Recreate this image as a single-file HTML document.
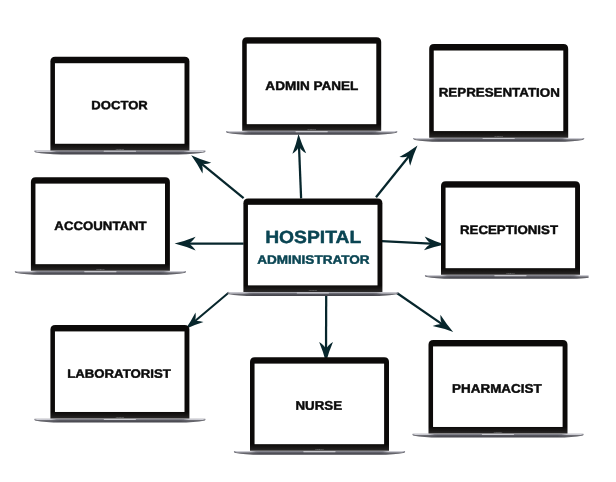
<!DOCTYPE html>
<html lang="en"><head><meta charset="utf-8"><title>Hospital Administrator</title>
<style>html,body{margin:0;padding:0;background:#fff;}body{width:616px;height:482px;overflow:hidden;font-family:"Liberation Sans",Arial,sans-serif;}svg{display:block;}</style>
</head><body>
<svg width="616" height="482" viewBox="0 0 616 482" font-family="'Liberation Sans', Arial, sans-serif" font-weight="700"><defs><linearGradient id="baseg" x1="0" y1="0" x2="0" y2="1"><stop offset="0" stop-color="#8e8e97"/><stop offset="0.28" stop-color="#787882"/><stop offset="0.45" stop-color="#55555d"/><stop offset="1" stop-color="#424249"/></linearGradient><linearGradient id="baseh" x1="0" y1="0" x2="1" y2="0"><stop offset="0" stop-color="#fff" stop-opacity="0"/><stop offset="0.02" stop-color="#fff" stop-opacity="0.15"/><stop offset="0.09" stop-color="#fff" stop-opacity="0.12"/><stop offset="0.15" stop-color="#fff" stop-opacity="0"/><stop offset="0.85" stop-color="#fff" stop-opacity="0"/><stop offset="0.91" stop-color="#fff" stop-opacity="0.12"/><stop offset="0.98" stop-color="#fff" stop-opacity="0.15"/><stop offset="1" stop-color="#fff" stop-opacity="0"/></linearGradient><linearGradient id="bezg" x1="0" y1="0" x2="0" y2="1"><stop offset="0" stop-color="#0c0a09"/><stop offset="0.93" stop-color="#0c0a09"/><stop offset="0.97" stop-color="#1c1a19"/><stop offset="1" stop-color="#2c2a2a"/></linearGradient><linearGradient id="hlL" x1="0" y1="0" x2="1" y2="0"><stop offset="0" stop-color="#d0d0d7" stop-opacity="0.3"/><stop offset="0.12" stop-color="#d0d0d7" stop-opacity="0.95"/><stop offset="0.75" stop-color="#d0d0d7" stop-opacity="0.9"/><stop offset="1" stop-color="#d0d0d7" stop-opacity="0"/></linearGradient><linearGradient id="hlR" x1="1" y1="0" x2="0" y2="0"><stop offset="0" stop-color="#d0d0d7" stop-opacity="0.3"/><stop offset="0.12" stop-color="#d0d0d7" stop-opacity="0.95"/><stop offset="0.75" stop-color="#d0d0d7" stop-opacity="0.9"/><stop offset="1" stop-color="#d0d0d7" stop-opacity="0"/></linearGradient></defs><g opacity="0.999"><g transform="translate(191.20 155.20) rotate(-140.63)"><rect x="-67.78" y="-1.12" width="53.78" height="2.25" fill="#07262c"/><path d="M0 0 Q-10.15 -2.62 -20.30 -6.90 Q-17.05 -2.07 -15.00 -1.12 L-15.00 1.12 Q-17.05 2.07 -20.30 6.90 Q-10.15 2.62 0 0Z" fill="#07262c"/></g>
<g transform="translate(298.50 133.90) rotate(-92.31)"><rect x="-64.55" y="-1.12" width="51.25" height="2.25" fill="#07262c"/><path d="M0 0 Q-9.80 -2.62 -19.60 -6.90 Q-16.46 -2.07 -14.30 -1.12 L-14.30 1.12 Q-16.46 2.07 -19.60 6.90 Q-9.80 2.62 0 0Z" fill="#07262c"/></g>
<g transform="translate(417.50 145.60) rotate(-51.19)"><rect x="-66.22" y="-1.12" width="52.22" height="2.25" fill="#07262c"/><path d="M0 0 Q-10.15 -2.62 -20.30 -6.90 Q-17.05 -2.07 -15.00 -1.12 L-15.00 1.12 Q-17.05 2.07 -20.30 6.90 Q-10.15 2.62 0 0Z" fill="#07262c"/></g>
<g transform="translate(444.60 244.40) rotate(3.09)"><rect x="-62.99" y="-1.12" width="48.99" height="2.25" fill="#07262c"/><path d="M0 0 Q-10.15 -2.62 -20.30 -6.90 Q-17.05 -2.07 -15.00 -1.12 L-15.00 1.12 Q-17.05 2.07 -20.30 6.90 Q-10.15 2.62 0 0Z" fill="#07262c"/></g>
<g transform="translate(453.20 331.90) rotate(34.64)"><rect x="-68.43" y="-1.12" width="54.43" height="2.25" fill="#07262c"/><path d="M0 0 Q-10.15 -2.62 -20.30 -6.90 Q-17.05 -2.07 -15.00 -1.12 L-15.00 1.12 Q-17.05 2.07 -20.30 6.90 Q-10.15 2.62 0 0Z" fill="#07262c"/></g>
<g transform="translate(326.00 362.30) rotate(90.17)"><rect x="-67.80" y="-1.12" width="53.80" height="2.25" fill="#07262c"/><path d="M0 0 Q-10.15 -2.62 -20.30 -6.90 Q-17.05 -2.07 -15.00 -1.12 L-15.00 1.12 Q-17.05 2.07 -20.30 6.90 Q-10.15 2.62 0 0Z" fill="#07262c"/></g>
<g transform="translate(185.50 329.00) rotate(140.01)"><rect x="-56.64" y="-1.01" width="44.14" height="2.02" fill="#07262c"/><path d="M0 0 Q-9.13 -2.36 -18.27 -6.21 Q-15.35 -1.86 -13.50 -1.01 L-13.50 1.01 Q-15.35 1.86 -18.27 6.21 Q-9.13 2.36 0 0Z" fill="#07262c"/></g>
<g transform="translate(174.60 243.50) rotate(-179.92)"><rect x="-69.00" y="-1.12" width="54.30" height="2.25" fill="#07262c"/><path d="M0 0 Q-10.50 -2.62 -21.00 -6.90 Q-17.64 -2.07 -15.70 -1.12 L-15.70 1.12 Q-17.64 2.07 -21.00 6.90 Q-10.50 2.62 0 0Z" fill="#07262c"/></g>
<g transform="translate(50.40 56.80) scale(1 0.9957)"><path d="M-15.9 94.2 L154.9 94.2 Q155.8 95.6 153.2 96.2 Q145 97.9 128 98 L11 98 Q-6 97.9 -14.2 96.2 Q-16.8 95.6 -15.9 94.2Z" fill="url(#baseg)"/><path d="M-15.9 94.2 L154.9 94.2 Q155.8 95.6 153.2 96.2 Q145 97.9 128 98 L11 98 Q-6 97.9 -14.2 96.2 Q-16.8 95.6 -15.9 94.2Z" fill="url(#baseh)"/><path d="M-15.7 94.2 H6 V95.5 H-13.4 Q-15.9 95.3 -15.7 94.2Z" fill="url(#hlL)"/><path d="M154.7 94.2 H133 V95.5 H152.4 Q154.9 95.3 154.7 94.2Z" fill="url(#hlR)"/><path d="M0 94.0 V4.8 Q0 0 4.8 0 H134.2 Q139.0 0 139.0 4.8 V94.0Z" fill="url(#bezg)"/><rect x="4.55" y="6.45" width="129.55" height="80.9" fill="#fff"/><rect x="53.3" y="94.3" width="32.3" height="1.1" rx="0.4" fill="#c9c9d0"/><text x="69.5" y="93.2" font-size="2.3" text-anchor="middle" fill="#8c8c8c" font-weight="400" textLength="8.4" lengthAdjust="spacingAndGlyphs">MacBook</text></g><text transform="rotate(0.03 119.6 105.0)" x="91.39" y="109.30" font-size="11.95" fill="#0b0b0b" stroke="#0b0b0b" stroke-width="0.45" stroke-linejoin="round" textLength="56.39" lengthAdjust="spacingAndGlyphs">DOCTOR</text>
<g transform="translate(242.20 37.20) scale(1 0.9957)"><path d="M-15.9 94.2 L154.9 94.2 Q155.8 95.6 153.2 96.2 Q145 97.9 128 98 L11 98 Q-6 97.9 -14.2 96.2 Q-16.8 95.6 -15.9 94.2Z" fill="url(#baseg)"/><path d="M-15.9 94.2 L154.9 94.2 Q155.8 95.6 153.2 96.2 Q145 97.9 128 98 L11 98 Q-6 97.9 -14.2 96.2 Q-16.8 95.6 -15.9 94.2Z" fill="url(#baseh)"/><path d="M-15.7 94.2 H6 V95.5 H-13.4 Q-15.9 95.3 -15.7 94.2Z" fill="url(#hlL)"/><path d="M154.7 94.2 H133 V95.5 H152.4 Q154.9 95.3 154.7 94.2Z" fill="url(#hlR)"/><path d="M0 94.0 V4.8 Q0 0 4.8 0 H134.2 Q139.0 0 139.0 4.8 V94.0Z" fill="url(#bezg)"/><rect x="4.55" y="6.45" width="129.55" height="80.9" fill="#fff"/><rect x="53.3" y="94.3" width="32.3" height="1.1" rx="0.4" fill="#c9c9d0"/><text x="69.5" y="93.2" font-size="2.3" text-anchor="middle" fill="#8c8c8c" font-weight="400" textLength="8.4" lengthAdjust="spacingAndGlyphs">MacBook</text></g><text transform="rotate(0.03 311.9 85.6)" x="265.39" y="90.04" font-size="12.44" fill="#0b0b0b" stroke="#0b0b0b" stroke-width="0.45" stroke-linejoin="round" textLength="93.02" lengthAdjust="spacingAndGlyphs">ADMIN PANEL</text>
<g transform="translate(429.20 44.10) scale(1 0.9957)"><path d="M-15.9 94.2 L154.9 94.2 Q155.8 95.6 153.2 96.2 Q145 97.9 128 98 L11 98 Q-6 97.9 -14.2 96.2 Q-16.8 95.6 -15.9 94.2Z" fill="url(#baseg)"/><path d="M-15.9 94.2 L154.9 94.2 Q155.8 95.6 153.2 96.2 Q145 97.9 128 98 L11 98 Q-6 97.9 -14.2 96.2 Q-16.8 95.6 -15.9 94.2Z" fill="url(#baseh)"/><path d="M-15.7 94.2 H6 V95.5 H-13.4 Q-15.9 95.3 -15.7 94.2Z" fill="url(#hlL)"/><path d="M154.7 94.2 H133 V95.5 H152.4 Q154.9 95.3 154.7 94.2Z" fill="url(#hlR)"/><path d="M0 94.0 V4.8 Q0 0 4.8 0 H134.2 Q139.0 0 139.0 4.8 V94.0Z" fill="url(#bezg)"/><rect x="4.55" y="6.45" width="129.55" height="80.9" fill="#fff"/><rect x="53.3" y="94.3" width="32.3" height="1.1" rx="0.4" fill="#c9c9d0"/><text x="69.5" y="93.2" font-size="2.3" text-anchor="middle" fill="#8c8c8c" font-weight="400" textLength="8.4" lengthAdjust="spacingAndGlyphs">MacBook</text></g><text transform="rotate(0.03 499.3 92.2)" x="438.71" y="96.61" font-size="12.36" fill="#0b0b0b" stroke="#0b0b0b" stroke-width="0.45" stroke-linejoin="round" textLength="121.12" lengthAdjust="spacingAndGlyphs">REPRESENTATION</text>
<g transform="translate(30.90 177.20) scale(1 0.9957)"><path d="M-15.9 94.2 L154.9 94.2 Q155.8 95.6 153.2 96.2 Q145 97.9 128 98 L11 98 Q-6 97.9 -14.2 96.2 Q-16.8 95.6 -15.9 94.2Z" fill="url(#baseg)"/><path d="M-15.9 94.2 L154.9 94.2 Q155.8 95.6 153.2 96.2 Q145 97.9 128 98 L11 98 Q-6 97.9 -14.2 96.2 Q-16.8 95.6 -15.9 94.2Z" fill="url(#baseh)"/><path d="M-15.7 94.2 H6 V95.5 H-13.4 Q-15.9 95.3 -15.7 94.2Z" fill="url(#hlL)"/><path d="M154.7 94.2 H133 V95.5 H152.4 Q154.9 95.3 154.7 94.2Z" fill="url(#hlR)"/><path d="M0 94.0 V4.8 Q0 0 4.8 0 H134.2 Q139.0 0 139.0 4.8 V94.0Z" fill="url(#bezg)"/><rect x="4.55" y="6.45" width="129.55" height="80.9" fill="#fff"/><rect x="53.3" y="94.3" width="32.3" height="1.1" rx="0.4" fill="#c9c9d0"/><text x="69.5" y="93.2" font-size="2.3" text-anchor="middle" fill="#8c8c8c" font-weight="400" textLength="8.4" lengthAdjust="spacingAndGlyphs">MacBook</text></g><text transform="rotate(0.03 100.5 225.5)" x="54.33" y="229.92" font-size="12.23" fill="#0b0b0b" stroke="#0b0b0b" stroke-width="0.45" stroke-linejoin="round" textLength="92.34" lengthAdjust="spacingAndGlyphs">ACCOUNTANT</text>
<g transform="translate(243.40 198.40) scale(1 0.9957)"><path d="M-15.9 94.2 L154.9 94.2 Q155.8 95.6 153.2 96.2 Q145 97.9 128 98 L11 98 Q-6 97.9 -14.2 96.2 Q-16.8 95.6 -15.9 94.2Z" fill="url(#baseg)"/><path d="M-15.9 94.2 L154.9 94.2 Q155.8 95.6 153.2 96.2 Q145 97.9 128 98 L11 98 Q-6 97.9 -14.2 96.2 Q-16.8 95.6 -15.9 94.2Z" fill="url(#baseh)"/><path d="M-15.7 94.2 H6 V95.5 H-13.4 Q-15.9 95.3 -15.7 94.2Z" fill="url(#hlL)"/><path d="M154.7 94.2 H133 V95.5 H152.4 Q154.9 95.3 154.7 94.2Z" fill="url(#hlR)"/><path d="M0 94.0 V4.8 Q0 0 4.8 0 H134.2 Q139.0 0 139.0 4.8 V94.0Z" fill="url(#bezg)"/><rect x="4.55" y="6.45" width="129.55" height="80.9" fill="#fff"/><rect x="53.3" y="94.3" width="32.3" height="1.1" rx="0.4" fill="#c9c9d0"/><text x="69.5" y="93.2" font-size="2.3" text-anchor="middle" fill="#8c8c8c" font-weight="400" textLength="8.4" lengthAdjust="spacingAndGlyphs">MacBook</text></g><text transform="rotate(0.03 313.2 236.8)" x="265.18" y="243.09" font-size="17.65" fill="#0a4553" stroke="#0a4553" stroke-width="0.45" stroke-linejoin="round" textLength="96.01" lengthAdjust="spacingAndGlyphs">HOSPITAL</text><text transform="rotate(0.03 313.4 259.3)" x="257.30" y="263.68" font-size="12.13" fill="#0a4553" stroke="#0a4553" stroke-width="0.45" stroke-linejoin="round" textLength="112.18" lengthAdjust="spacingAndGlyphs">ADMINISTRATOR</text>
<g transform="translate(441.00 181.20) scale(1 0.9957)"><path d="M-15.9 94.2 L154.9 94.2 Q155.8 95.6 153.2 96.2 Q145 97.9 128 98 L11 98 Q-6 97.9 -14.2 96.2 Q-16.8 95.6 -15.9 94.2Z" fill="url(#baseg)"/><path d="M-15.9 94.2 L154.9 94.2 Q155.8 95.6 153.2 96.2 Q145 97.9 128 98 L11 98 Q-6 97.9 -14.2 96.2 Q-16.8 95.6 -15.9 94.2Z" fill="url(#baseh)"/><path d="M-15.7 94.2 H6 V95.5 H-13.4 Q-15.9 95.3 -15.7 94.2Z" fill="url(#hlL)"/><path d="M154.7 94.2 H133 V95.5 H152.4 Q154.9 95.3 154.7 94.2Z" fill="url(#hlR)"/><path d="M0 94.0 V4.8 Q0 0 4.8 0 H134.2 Q139.0 0 139.0 4.8 V94.0Z" fill="url(#bezg)"/><rect x="4.55" y="6.45" width="129.55" height="80.9" fill="#fff"/><rect x="53.3" y="94.3" width="32.3" height="1.1" rx="0.4" fill="#c9c9d0"/><text x="69.5" y="93.2" font-size="2.3" text-anchor="middle" fill="#8c8c8c" font-weight="400" textLength="8.4" lengthAdjust="spacingAndGlyphs">MacBook</text></g><text transform="rotate(0.03 509.0 229.5)" x="460.04" y="233.96" font-size="12.33" fill="#0b0b0b" stroke="#0b0b0b" stroke-width="0.45" stroke-linejoin="round" textLength="97.96" lengthAdjust="spacingAndGlyphs">RECEPTIONIST</text>
<g transform="translate(50.40 325.00) scale(1 0.9957)"><path d="M-15.9 94.2 L154.9 94.2 Q155.8 95.6 153.2 96.2 Q145 97.9 128 98 L11 98 Q-6 97.9 -14.2 96.2 Q-16.8 95.6 -15.9 94.2Z" fill="url(#baseg)"/><path d="M-15.9 94.2 L154.9 94.2 Q155.8 95.6 153.2 96.2 Q145 97.9 128 98 L11 98 Q-6 97.9 -14.2 96.2 Q-16.8 95.6 -15.9 94.2Z" fill="url(#baseh)"/><path d="M-15.7 94.2 H6 V95.5 H-13.4 Q-15.9 95.3 -15.7 94.2Z" fill="url(#hlL)"/><path d="M154.7 94.2 H133 V95.5 H152.4 Q154.9 95.3 154.7 94.2Z" fill="url(#hlR)"/><path d="M0 94.0 V4.8 Q0 0 4.8 0 H134.2 Q139.0 0 139.0 4.8 V94.0Z" fill="url(#bezg)"/><rect x="4.55" y="6.45" width="129.55" height="80.9" fill="#fff"/><rect x="53.3" y="94.3" width="32.3" height="1.1" rx="0.4" fill="#c9c9d0"/><text x="69.5" y="93.2" font-size="2.3" text-anchor="middle" fill="#8c8c8c" font-weight="400" textLength="8.4" lengthAdjust="spacingAndGlyphs">MacBook</text></g><text transform="rotate(0.03 119.0 373.3)" x="67.20" y="377.68" font-size="12.14" fill="#0b0b0b" stroke="#0b0b0b" stroke-width="0.45" stroke-linejoin="round" textLength="103.61" lengthAdjust="spacingAndGlyphs">LABORATORIST</text>
<g transform="translate(250.00 357.20) scale(1 0.9957)"><path d="M-15.9 94.2 L154.9 94.2 Q155.8 95.6 153.2 96.2 Q145 97.9 128 98 L11 98 Q-6 97.9 -14.2 96.2 Q-16.8 95.6 -15.9 94.2Z" fill="url(#baseg)"/><path d="M-15.9 94.2 L154.9 94.2 Q155.8 95.6 153.2 96.2 Q145 97.9 128 98 L11 98 Q-6 97.9 -14.2 96.2 Q-16.8 95.6 -15.9 94.2Z" fill="url(#baseh)"/><path d="M-15.7 94.2 H6 V95.5 H-13.4 Q-15.9 95.3 -15.7 94.2Z" fill="url(#hlL)"/><path d="M154.7 94.2 H133 V95.5 H152.4 Q154.9 95.3 154.7 94.2Z" fill="url(#hlR)"/><path d="M0 94.0 V4.8 Q0 0 4.8 0 H134.2 Q139.0 0 139.0 4.8 V94.0Z" fill="url(#bezg)"/><rect x="4.55" y="6.45" width="129.55" height="80.9" fill="#fff"/><rect x="53.3" y="94.3" width="32.3" height="1.1" rx="0.4" fill="#c9c9d0"/><text x="69.5" y="93.2" font-size="2.3" text-anchor="middle" fill="#8c8c8c" font-weight="400" textLength="8.4" lengthAdjust="spacingAndGlyphs">MacBook</text></g><text transform="rotate(0.03 318.7 405.3)" x="295.45" y="409.77" font-size="12.45" fill="#0b0b0b" stroke="#0b0b0b" stroke-width="0.45" stroke-linejoin="round" textLength="46.59" lengthAdjust="spacingAndGlyphs">NURSE</text>
<g transform="translate(428.50 340.00) scale(1 0.9957)"><path d="M-15.9 94.2 L154.9 94.2 Q155.8 95.6 153.2 96.2 Q145 97.9 128 98 L11 98 Q-6 97.9 -14.2 96.2 Q-16.8 95.6 -15.9 94.2Z" fill="url(#baseg)"/><path d="M-15.9 94.2 L154.9 94.2 Q155.8 95.6 153.2 96.2 Q145 97.9 128 98 L11 98 Q-6 97.9 -14.2 96.2 Q-16.8 95.6 -15.9 94.2Z" fill="url(#baseh)"/><path d="M-15.7 94.2 H6 V95.5 H-13.4 Q-15.9 95.3 -15.7 94.2Z" fill="url(#hlL)"/><path d="M154.7 94.2 H133 V95.5 H152.4 Q154.9 95.3 154.7 94.2Z" fill="url(#hlR)"/><path d="M0 94.0 V4.8 Q0 0 4.8 0 H134.2 Q139.0 0 139.0 4.8 V94.0Z" fill="url(#bezg)"/><rect x="4.55" y="6.45" width="129.55" height="80.9" fill="#fff"/><rect x="53.3" y="94.3" width="32.3" height="1.1" rx="0.4" fill="#c9c9d0"/><text x="69.5" y="93.2" font-size="2.3" text-anchor="middle" fill="#8c8c8c" font-weight="400" textLength="8.4" lengthAdjust="spacingAndGlyphs">MacBook</text></g><text transform="rotate(0.03 496.9 388.3)" x="452.11" y="392.77" font-size="12.49" fill="#0b0b0b" stroke="#0b0b0b" stroke-width="0.45" stroke-linejoin="round" textLength="89.58" lengthAdjust="spacingAndGlyphs">PHARMACIST</text>
<rect x="588.6" y="272" width="27.4" height="12" fill="#fff"/></g></svg>
</body></html>
